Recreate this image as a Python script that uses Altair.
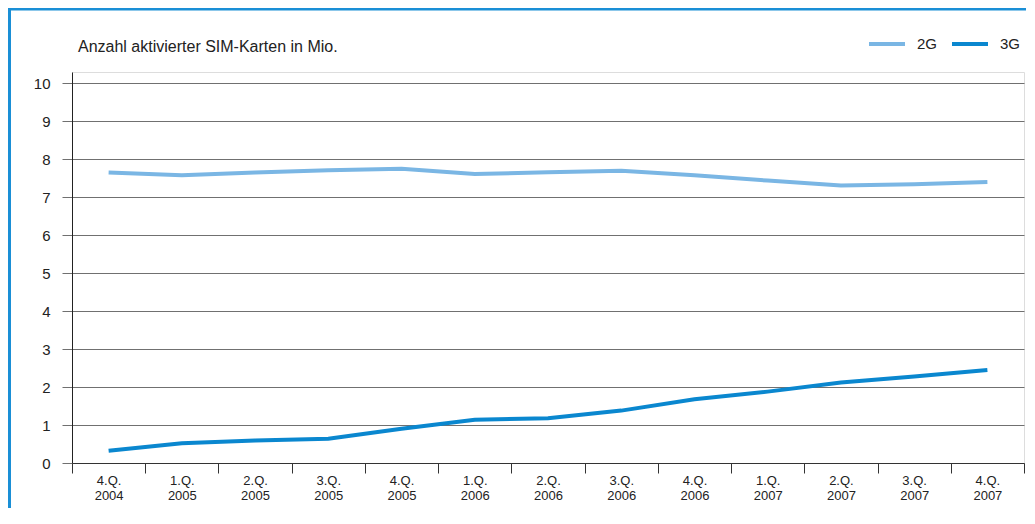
import altair as alt
import pandas as pd

quarters = ["4.Q. 2004", "1.Q. 2005", "2.Q. 2005", "3.Q. 2005", "4.Q. 2005",
            "1.Q. 2006", "2.Q. 2006", "3.Q. 2006", "4.Q. 2006",
            "1.Q. 2007", "2.Q. 2007", "3.Q. 2007", "4.Q. 2007"]
values_2g = [7.65, 7.58, 7.65, 7.71, 7.75, 7.61, 7.66, 7.70, 7.58, 7.44, 7.31, 7.34, 7.40]
values_3g = [0.32, 0.52, 0.59, 0.64, 0.90, 1.14, 1.18, 1.38, 1.68, 1.88, 2.12, 2.28, 2.45]
series_names = ["2G", "3G"]
series_colors = ["#7ab6e4", "#0a87cf"]
y_ticks = list(range(0, 11))
title_text = "Anzahl aktivierter SIM-Karten in Mio."

FONT = "Liberation Sans"
TEXT = "#222222"
FRAME = "#1a8fd6"

df = pd.DataFrame({
    "quarter": quarters * 2,
    "series": ["2G"] * len(quarters) + ["3G"] * len(quarters),
    "value": values_2g + values_3g,
})

lines = alt.Chart(df).mark_line(strokeWidth=4).encode(
    x=alt.X("quarter:N", sort=quarters, bandPosition=0.5,
            scale=alt.Scale(type="band", paddingInner=0, paddingOuter=0),
            axis=alt.Axis(title=None, tickBand="extent", grid=False,
                          labelExpr="split(datum.label, ' ')",
                          labelAngle=0, labelFontSize=13, labelLineHeight=15,
                          labelPadding=1, labelColor=TEXT, labelFont=FONT,
                          tickSize=10, tickColor="#333333", domainColor="#333333")),
    y=alt.Y("value:Q", scale=alt.Scale(domain=[0, 10.3], nice=False, zero=True),
            axis=alt.Axis(title=None, values=y_ticks, grid=True, gridColor="#707070",
                          tickColor="#707070", tickSize=10, domainColor="#222222",
                          labelFontSize=15, labelPadding=12, labelColor=TEXT,
                          labelFont=FONT)),
    color=alt.Color("series:N",
                    scale=alt.Scale(domain=series_names, range=series_colors),
                    legend=alt.Legend(orient="none", legendX=795, legendY=-48,
                                      direction="horizontal", title=None,
                                      symbolType="stroke", symbolSize=1296,
                                      symbolStrokeWidth=4, labelFontSize=15,
                                      labelFont=FONT, labelColor=TEXT,
                                      labelOffset=10, columnPadding=6,
                                      padding=0)),
)

one = pd.DataFrame({"t": [title_text]})

title = alt.Chart(one).mark_text(align="left", baseline="middle", fontSize=16,
                                 font=FONT, color=TEXT).encode(
    text="t:N", x=alt.value(6), y=alt.value(-25))

frame_top = alt.Chart(one).mark_rule(color=FRAME, strokeWidth=3).encode(
    x=alt.value(-64), x2=alt.value(1100), y=alt.value(-63))
frame_left = alt.Chart(one).mark_rule(color=FRAME, strokeWidth=3).encode(
    x=alt.value(-62.5), y=alt.value(-64), y2=alt.value(600))

chart = alt.layer(frame_top, frame_left, title, lines).properties(
    width=952, height=391,
    autosize=alt.AutoSizeParams(type="none"),
    padding={"left": 64, "top": 64, "right": 2, "bottom": 45},
).configure_view(stroke=None).configure(font=FONT)

chart.save("out.html", embed_options={"renderer": "svg", "actions": False})
